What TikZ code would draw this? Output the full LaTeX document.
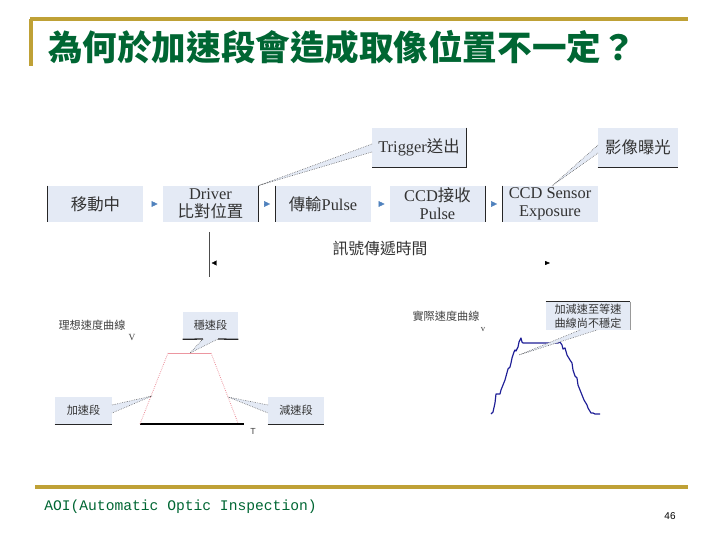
\documentclass[tikz,border=0pt]{standalone}
\usepackage{fontspec}
\setmainfont{Liberation Serif}
\setsansfont{Liberation Sans}
\setmonofont{Liberation Mono}
\newfontfamily\cjk{Noto Sans CJK TC}
\usetikzlibrary{arrows.meta}

\begin{document}
\begin{tikzpicture}[
x=0.03cm, y=-0.03cm,
line width=0.6pt,
every node/.style={text=black!80},
blk/.style={fill=boxfill, minimum width=2.85cm, minimum height=1.08cm, inner sep=0pt, align=center, font=\fontsize{14}{15.5}\selectfont},
tag/.style={fill=boxfill, minimum height=0.81cm, inner sep=0pt, align=center, font=\cjk\fontsize{9.5}{12}\selectfont},
edge/.style={draw=black!85, line width=1.1pt},
flow/.style={draw=tipblue, line width=0.3pt, shorten <=0.27cm, shorten >=0.15cm, -{Triangle[length=0.18cm, width=0.17cm]}},
dimline/.style={draw=white, line width=0.3pt, shorten <=0.08cm, {Triangle[color=black, length=0.15cm, width=0.15cm]}-{Triangle[color=black, length=0.15cm, width=0.12cm]}},
wedge/.style={fill=boxfill},
dots/.style={draw=black!65, densely dotted, line width=0.5pt},
small/.style={font=\cjk\fontsize{9.5}{11}\selectfont, text=black!75},
rule/.style={draw=gold, line width=2.6pt}
]
\definecolor{boxfill}{RGB}{228,234,245}
\definecolor{tipblue}{RGB}{79,129,189}
\definecolor{gold}{RGB}{191,161,54}
\definecolor{ttlgreen}{RGB}{0,102,51}
\definecolor{ideal}{RGB}{236,150,160}
\definecolor{real}{RGB}{30,30,150}

\useasboundingbox (0,0) rectangle (720,540);

% title and footer
\draw[rule] (30,19) -- (688,19);
\draw[rule] (31,19) -- (31,66);
\node[text=ttlgreen, font=\cjk\bfseries\fontsize{29.5}{32}\selectfont] (ttl) at (342,47) {為何於加速段會造成取像位置不一定？};
\draw[rule, line width=3pt] (35,487) -- (688,487);
\node[anchor=west, text=ttlgreen, font=\ttfamily\fontsize{12.5}{14}\selectfont] (foot) at (40,507) {AOI(Automatic Optic Inspection)};
\node[text=black, font=\sffamily\fontsize{8.5}{10}\selectfont] (pg) at (670,516) {46};

% signal chain
\node[blk] (b1) at (95.5,204) {{\cjk 移動中}};
\node[blk] (b2) at (210.5,204) {Driver\\{\cjk 比對位置}};
\node[blk] (b3) at (323,204) {{\cjk 傳輸}Pulse};
\node[blk] (b4) at (437.5,204) {CCD{\cjk 接收}\\Pulse};
\node[blk] (b5) at (550,204) {CCD Sensor\\Exposure};
\draw[edge] (b1.north west) -- (b1.south west);
\draw[edge] (b2.north east) -- (b2.south east);
\draw[edge] (b3.north west) -- (b3.south west);
\draw[edge] (b4.north east) -- (b4.south east);
\draw[edge] (b5.north west) -- (b5.south west);
\foreach \a/\b in {b1/b2,b2/b3,b3/b4,b4/b5}{
\draw[flow] (\a) -- (\b);
}

% callouts on the chain
\node[blk, minimum width=2.82cm, minimum height=1.17cm] (trg) at (419,147.5) {Trigger{\cjk 送出}};
\draw[edge] (trg.north east) -- (trg.south east) -- (trg.south west);
\coordinate (trgA) at (372,144);
\coordinate (trgB) at (372,152);
\fill[wedge] (trgA) -- (b2.north east) -- (trgB) -- cycle;
\draw[dots] (trgA) -- (b2.north east) -- (trgB);

\node[blk, minimum width=2.4cm, minimum height=1.17cm] (img) at (638,147.5) {{\cjk 影像曝光}};
\draw[edge] (img.south west) -- (img.south east);
\coordinate (imgA) at (598,145);
\coordinate (imgB) at (598,153);
\coordinate (imgP) at (552,186);
\fill[wedge] (imgA) -- (imgP) -- (imgB) -- cycle;
\draw[dots] (imgA) -- (imgP) -- (imgB);

% transfer time
\coordinate (dimtop) at (209,232);
\coordinate (dimbot) at (209,277);
\coordinate (dimL) at (209,263);
\coordinate (dimR) at (550,263);
\draw[draw=black!70, line width=0.8pt] (dimtop) -- (dimbot);
\draw[dimline] (dimL) -- (dimR);
\node[font=\cjk\fontsize{13.5}{15}\selectfont] (tt) at (380,248) {訊號傳遞時間};

% ideal speed curve
\node[small] (lbl1) at (92,325) {理想速度曲線};
\node[small, font=\fontsize{8}{9}\selectfont] (v1) at (132,338) {V};
\node[small, font=\sffamily\fontsize{7.5}{9}\selectfont] (t1) at (253,431) {T};
\coordinate (o1) at (140,424);
\coordinate (k1) at (168,353);
\coordinate (k2) at (211,353);
\coordinate (e1) at (238,423);
\coordinate (ax) at (244,424);
\draw[black, line width=1pt] (o1) -- (ax);
\draw[ideal, densely dotted, line width=0.7pt] (o1) -- (k1);
\draw[ideal, line width=0.8pt] (k1) -- (k2);
\draw[ideal, densely dotted, line width=0.7pt] (k2) -- (e1);

\node[tag, minimum width=1.65cm] (wsd) at (210.5,325.5) {穩速段};
\coordinate (wsdA) at (203,339);
\coordinate (wsdB) at (218,339);
\coordinate (wsdP) at (190,353);
\fill[wedge] (wsdA) -- (wsdP) -- (wsdB) -- cycle;
\draw[dots] (wsdA) -- (wsdP) -- (wsdB);
\draw[edge] (wsd.south west) -- (wsdA);
\draw[edge] (wsdB) -- (wsd.south east);

\node[tag, minimum width=1.71cm] (acc) at (83.5,410.5) {加速段};
\draw[edge] (acc.south west) -- (acc.south east);
\coordinate (accA) at (112,405);
\coordinate (accB) at (112,413);
\coordinate (accP) at (152,396);
\fill[wedge] (accA) -- (accP) -- (accB) -- cycle;
\draw[dots] (accA) -- (accP) -- (accB);

\node[tag, minimum width=1.68cm] (dec) at (296,410.5) {減速段};
\draw[edge] (dec.south west) -- (dec.south east);
\coordinate (decA) at (268,405);
\coordinate (decB) at (268,413);
\coordinate (decP) at (228,397);
\fill[wedge] (decA) -- (decP) -- (decB) -- cycle;
\draw[dots] (decA) -- (decP) -- (decB);

% real speed curve
\node[small] (lbl2) at (446,316) {實際速度曲線};
\node[small, font=\fontsize{7.5}{9}\selectfont] (v2) at (483,330) {v};
\draw[real, line width=1pt, line join=round] plot coordinates {
(491,414) (493,412) (495,403) (496,394) (500,394) (501,390) (505,380) (508,369)
(510,367) (511,363) (512,358) (514,352) (515,350) (516,351) (518,347) (519,342)
(521,338) (522,342) (523,343) (558,343) (560,342) (562,345) (563,349) (565,348)
(567,355) (570,360) (572,363) (573,370) (575,376) (577,378) (578,385) (580,390)
(582,395) (584,400) (587,405) (588,408) (591,413) (593,413) (595,414) (600,414)};

\node[tag, minimum width=2.52cm, minimum height=0.84cm] (note) at (588,316) {加減速至等速\\曲線尚不穩定};
\draw[edge] (note.north west) -- (note.north east);
\draw[draw=black!40, line width=0.5pt] (note.north east) -- (note.south east);
\coordinate (noteA) at (580,330);
\coordinate (noteB) at (597,330);
\coordinate (noteP) at (519,355);
\fill[wedge] (noteA) -- (noteP) -- (noteB) -- cycle;
\draw[dots] (noteA) -- (noteP) -- (noteB);
\end{tikzpicture}
\end{document}
